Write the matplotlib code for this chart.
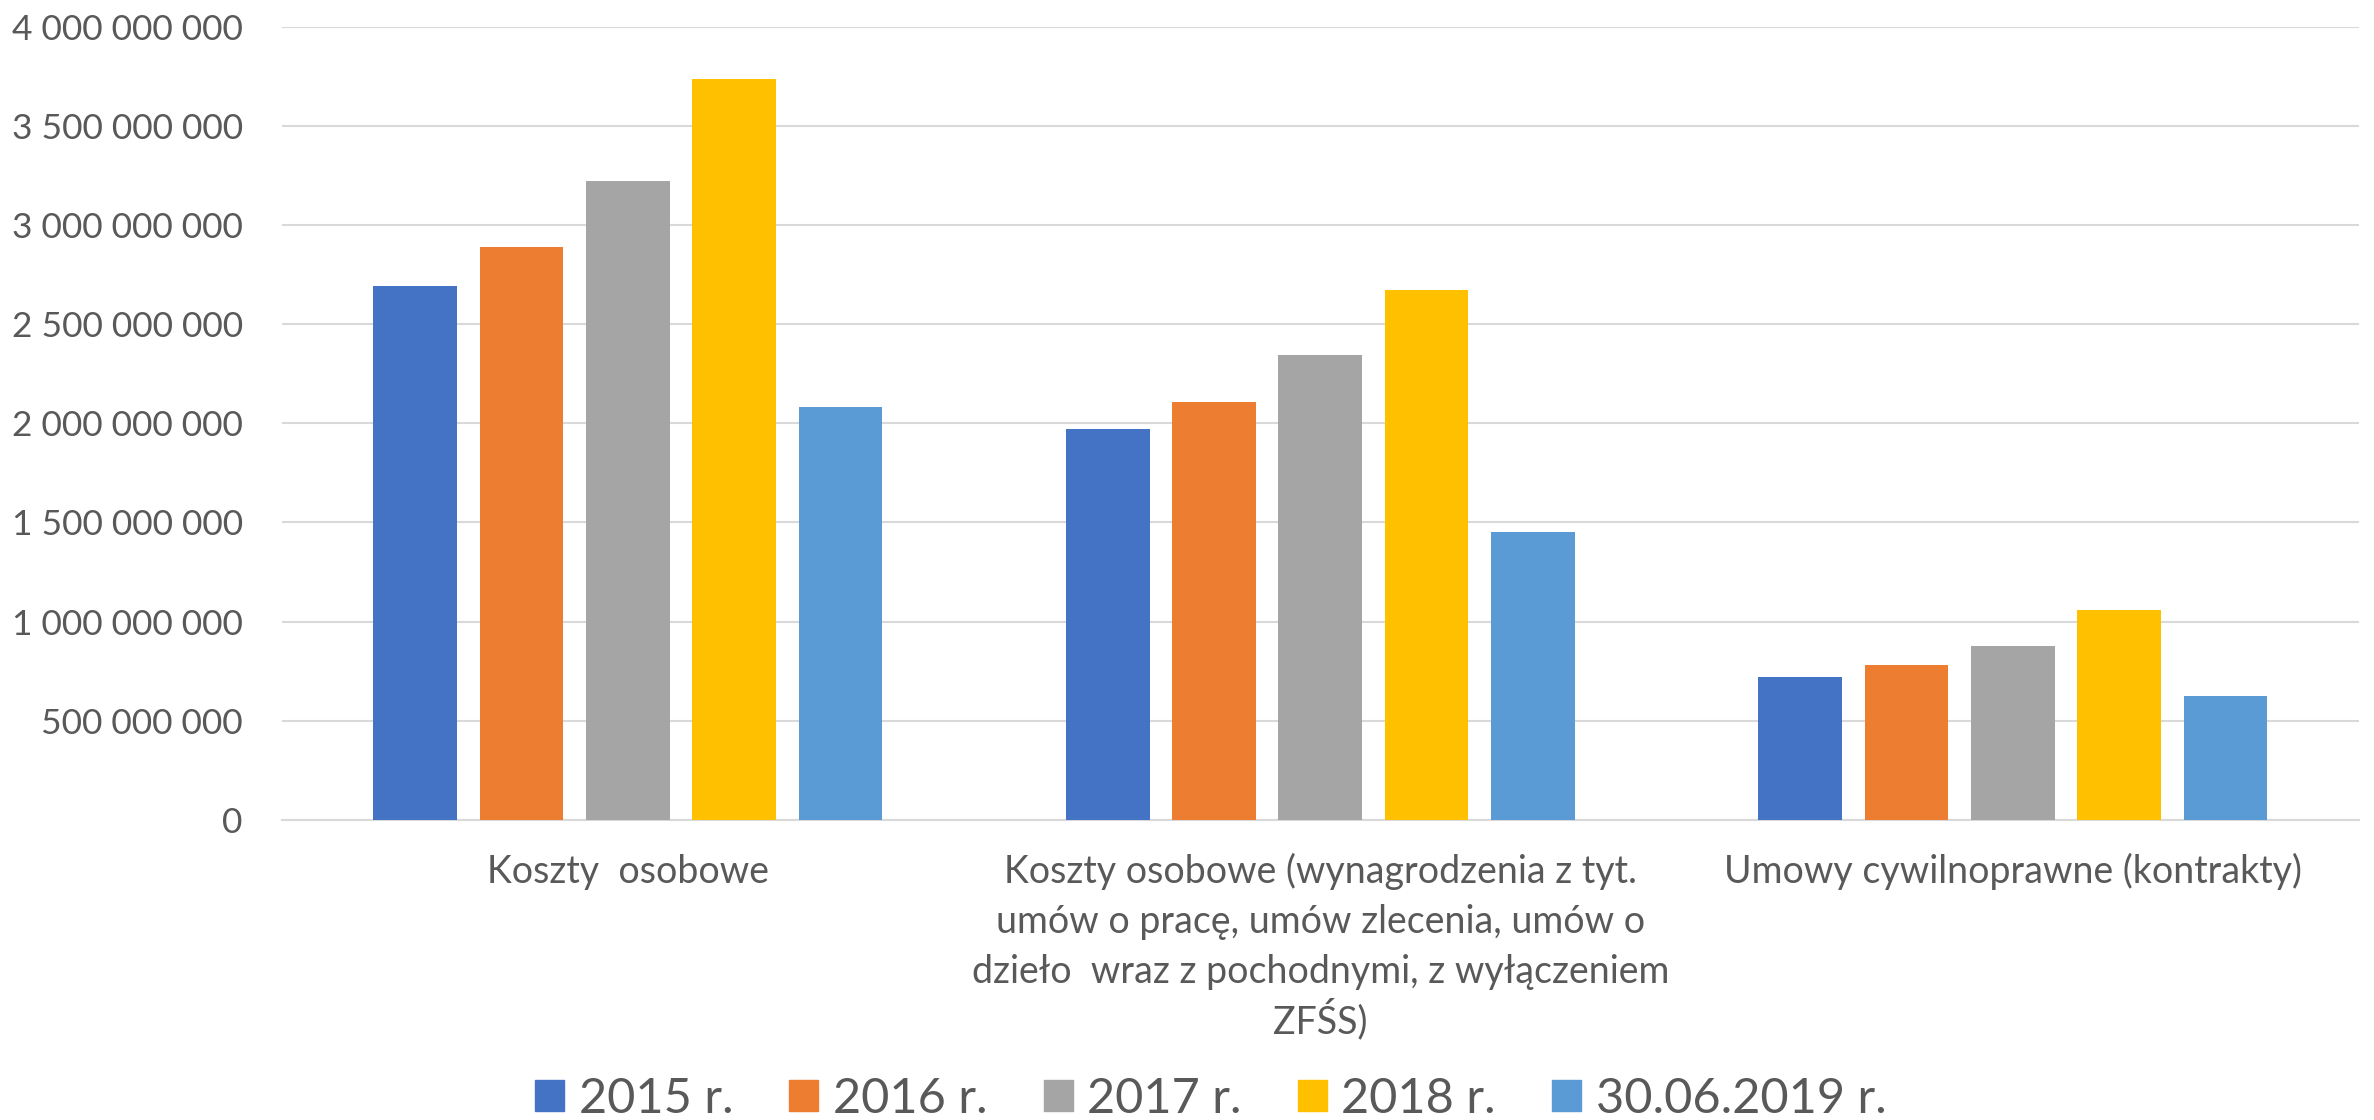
import numpy as np
import matplotlib.pyplot as plt
from matplotlib.patches import Patch
from matplotlib.ticker import FuncFormatter

# dane
kategorie = [
    "Koszty  osobowe",
    "Koszty osobowe (wynagrodzenia z tyt.\numów o pracę, umów zlecenia, umów o\ndzieło  wraz z pochodnymi, z wyłączeniem\nZFŚS)",
    "Umowy cywilnoprawne (kontrakty)",
]
serie = ["2015 r.", "2016 r.", "2017 r.", "2018 r.", "30.06.2019 r."]
w_2015 = [2.693e9, 1.970e9, 0.721e9]
w_2016 = [2.889e9, 2.106e9, 0.780e9]
w_2017 = [3.223e9, 2.345e9, 0.876e9]
w_2018 = [3.736e9, 2.672e9, 1.059e9]
w_2019 = [2.081e9, 1.451e9, 0.627e9]
kolory = ["#4472C4", "#ED7D31", "#A5A5A5", "#FFC000", "#5B9BD5"]

plt.rcParams['font.family'] = ['Lato', 'DejaVu Sans']
txt = "#595959"

fig = plt.figure(figsize=(23.74, 11.2), dpi=100)
ax = fig.add_axes([0.1186, 0.2679, 0.8751, 0.7083])

x = np.arange(len(kategorie))
krok, szer = 0.1535, 0.1208
for j, (vals, kol) in enumerate(zip([w_2015, w_2016, w_2017, w_2018, w_2019], kolory)):
    ax.bar(x + (j - 2) * krok, vals, width=szer, color=kol, zorder=3)

ax.set_xlim(-0.5, 2.5)
ax.set_ylim(0, 4e9)
ax.set_yticks(np.arange(0, 4.01e9, 5e8))
ax.yaxis.set_major_formatter(FuncFormatter(lambda v, p: f"{int(round(v)):,}".replace(",", " ")))
ax.set_xticks(x)
ax.set_xticklabels([])

# etykiety kategorii linia po linii (równe odstępy mimo znaków z akcentem)
for xi, etyk in zip(x, kategorie):
    for k, linia in enumerate(etyk.split("\n")):
        ax.annotate(linia, (xi, 0), xycoords=('data', 'axes fraction'),
                    xytext=(0, -63 - 50 * k), textcoords='offset pixels',
                    ha='center', va='baseline', fontsize=27, color=txt)

ax.grid(axis='y', color="#D9D9D9", lw=1.5, zorder=0)
for s in ['top', 'right', 'left']:
    ax.spines[s].set_visible(False)
ax.spines['bottom'].set_color("#D9D9D9")
ax.spines['bottom'].set_linewidth(1.5)
ax.tick_params(axis='y', length=0, pad=28, labelsize=25.5, labelcolor=txt)
ax.tick_params(axis='x', length=0)

uchwyty = [Patch(color=k, label=s) for k, s in zip(kolory, serie)]
fig.legend(handles=uchwyty, loc='center', bbox_to_anchor=(0.51, 0.019), ncol=5,
           frameon=False, fontsize=35, labelcolor=txt, handlelength=0.6,
           handleheight=0.6, handletextpad=0.3, columnspacing=1.15)

fig.savefig("out.png", dpi=100)
